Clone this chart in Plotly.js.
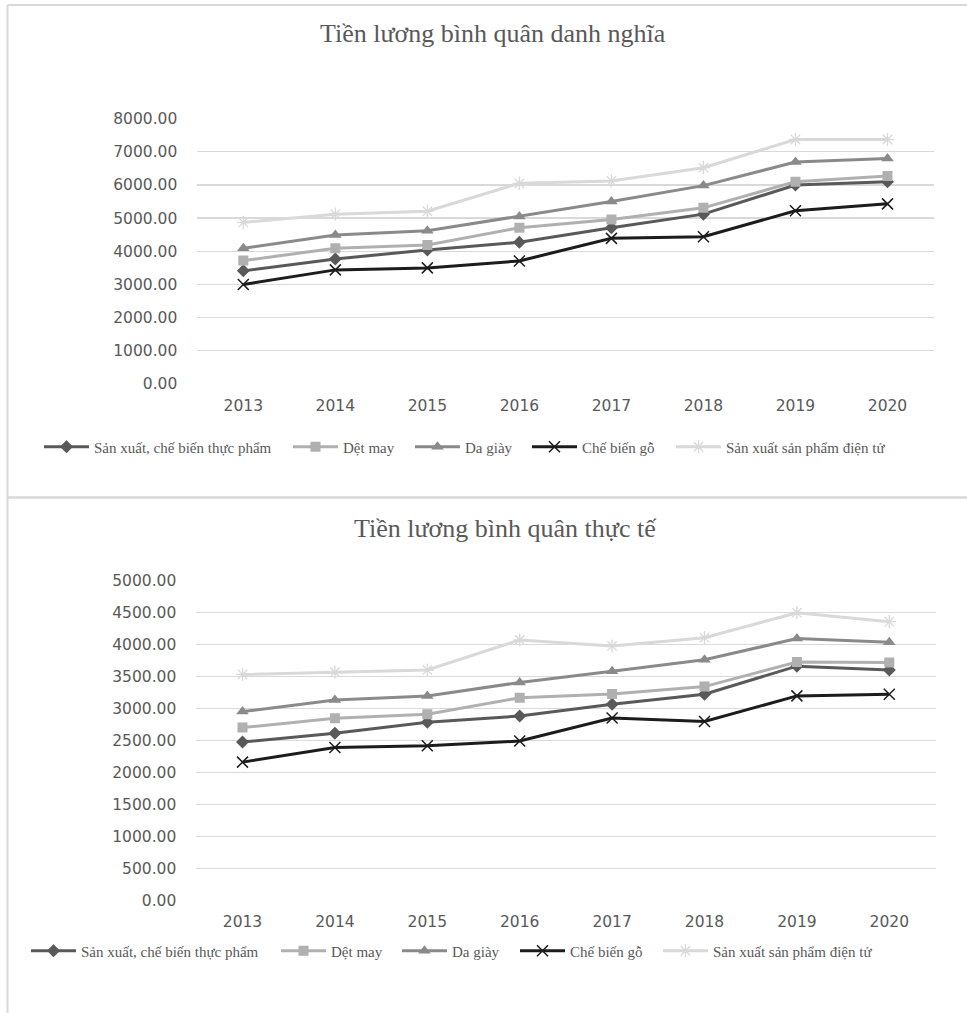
<!DOCTYPE html>
<html>
<head>
<meta charset="utf-8">
<script src="https://cdn.plot.ly/plotly-3.0.1.min.js"></script>
<style>html,body{margin:0;padding:0;background:#fff}#chart{width:967px;height:1013px}</style>
</head>
<body>
<div id="chart"></div>
<script>
// ---- data ----
const years = ['2013','2014','2015','2016','2017','2018','2019','2020'];
const seriesNames = ['Sản xuất, chế biến thực phẩm','Dệt may','Da giày','Chế biến gỗ','Sản xuất sản phẩm điện tử'];
const titleTop = 'Tiền lương bình quân danh nghĩa';
const titleBottom = 'Tiền lương bình quân thực tế';

// Nominal wages (top chart)
const nomThucPham = [3410, 3770, 4040, 4270, 4710, 5120, 6000, 6100];
const nomDetMay   = [3720, 4090, 4190, 4710, 4960, 5310, 6100, 6270];
const nomDaGiay   = [4090, 4490, 4620, 5050, 5500, 5980, 6690, 6800];
const nomGo       = [3000, 3440, 3500, 3710, 4390, 4440, 5220, 5430];
const nomDienTu   = [4870, 5120, 5210, 6050, 6120, 6520, 7370, 7370];

// Real wages (bottom chart)
const realThucPham = [2480, 2615, 2790, 2885, 3070, 3225, 3665, 3605];
const realDetMay   = [2705, 2850, 2915, 3170, 3230, 3345, 3730, 3720];
const realDaGiay   = [2955, 3135, 3200, 3410, 3585, 3765, 4095, 4040];
const realGo       = [2165, 2395, 2420, 2495, 2855, 2800, 3200, 3225];
const realDienTu   = [3535, 3570, 3605, 4075, 3980, 4110, 4500, 4360];

// ---- styles ----
const styles = [
  {color:'#595959', symbol:'diamond', size:10, lw:0},
  {color:'#b0b0b0', symbol:'square', size:10, lw:0},
  {color:'#8a8a8a', symbol:'triangle-up', size:11, lw:0},
  {color:'#1c1c1c', symbol:'x-thin-open', size:11, lw:1.5},
  {color:'#d9d9d9', symbol:'asterisk-open', size:11, lw:1.3}
];

const W = 967, H = 1013;
const px = v => v / W;
const py = v => (H - v) / H;

// legend item left positions (px) for each chart
const legendXTop = [39, 288, 410, 527, 671];
const legendXBottom = [26, 276, 397, 515, 658];
const legendYTop = 447, legendYBottom = 951;

function legendId(n) { return n === 1 ? 'legend' : 'legend' + n; }

function makeTraces(dataSets, xa, ya, legendOffset) {
  return dataSets.map((vals, i) => {
    const s = styles[i];
    return {
      type: 'scatter', mode: 'lines+markers',
      x: years, y: vals, name: seriesNames[i],
      xaxis: xa, yaxis: ya, legend: legendId(legendOffset + i + 1),
      line: {color: s.color, width: 3},
      marker: {symbol: s.symbol, size: s.size, color: s.color,
               line: {color: s.color, width: s.lw}},
      hoverinfo: 'x+y+name'
    };
  });
}

const traces = [
  ...makeTraces([nomThucPham, nomDetMay, nomDaGiay, nomGo, nomDienTu], 'x', 'y', 0),
  ...makeTraces([realThucPham, realDetMay, realDaGiay, realGo, realDienTu], 'x2', 'y2', 5)
];

const tickFont = {family: 'DejaVu Sans', size: 15.5, color: '#595959'};
const legendFont = {family: 'Liberation Serif', size: 15, color: '#595959'};
const titleFont = {family: 'Liberation Serif', size: 26, color: '#595959'};
const grid = '#d9d9d9';

const xBase = {type: 'category', range: [-0.5, 7.5], showgrid: false, zeroline: false,
  showline: false, ticks: '', tickfont: tickFont, ticklabelstandoff: 10, fixedrange: true};
const yBase = {showgrid: true, gridcolor: grid, gridwidth: 1.3, zeroline: false, showline: false,
  ticks: '', tickfont: tickFont, tickformat: '.2f', ticklabelstandoff: 19, fixedrange: true};

const layout = {
  width: W, height: H,
  margin: {l: 0, r: 0, t: 0, b: 0},
  paper_bgcolor: '#ffffff', plot_bgcolor: '#ffffff',
  showlegend: true,
  xaxis:  Object.assign({}, xBase, {domain: [px(197.3), px(933.5)], anchor: 'y'}),
  yaxis:  Object.assign({}, yBase, {domain: [py(384), py(118.6)], range: [0, 8000], dtick: 1000, anchor: 'x'}),
  xaxis2: Object.assign({}, xBase, {domain: [px(196.3), px(935.5)], anchor: 'y2'}),
  yaxis2: Object.assign({}, yBase, {domain: [py(900.7), py(580.7)], range: [0, 5000], dtick: 500, anchor: 'x2'}),
  annotations: [
    {text: titleTop, xref: 'paper', yref: 'paper', x: px(493), y: py(33), xanchor: 'center', yanchor: 'middle',
     showarrow: false, font: titleFont},
    {text: titleBottom, xref: 'paper', yref: 'paper', x: px(505), y: py(528), xanchor: 'center', yanchor: 'middle',
     showarrow: false, font: titleFont}
  ],
  shapes: [
    {type: 'line', xref: 'paper', yref: 'paper', x0: px(7.5), x1: 1, y0: py(5), y1: py(5), line: {color: grid, width: 2}},
    {type: 'line', xref: 'paper', yref: 'paper', x0: px(7.5), x1: px(7.5), y0: py(5), y1: 0, line: {color: grid, width: 2}},
    {type: 'line', xref: 'paper', yref: 'paper', x0: px(7.5), x1: 1, y0: py(497.5), y1: py(497.5), line: {color: grid, width: 2.5}}
  ]
};

function legendCfg(xPx, yPx) {
  return {orientation: 'h', x: px(xPx), y: py(yPx), xanchor: 'left', yanchor: 'middle',
          itemwidth: 45, font: legendFont, bgcolor: 'rgba(0,0,0,0)',
          itemclick: false, itemdoubleclick: false};
}
legendXTop.forEach((xv, i) => { layout[legendId(i + 1)] = legendCfg(xv, legendYTop); });
legendXBottom.forEach((xv, i) => { layout[legendId(i + 6)] = legendCfg(xv, legendYBottom); });

Plotly.newPlot('chart', traces, layout, {displayModeBar: false, staticPlot: true});
</script>
</body>
</html>
